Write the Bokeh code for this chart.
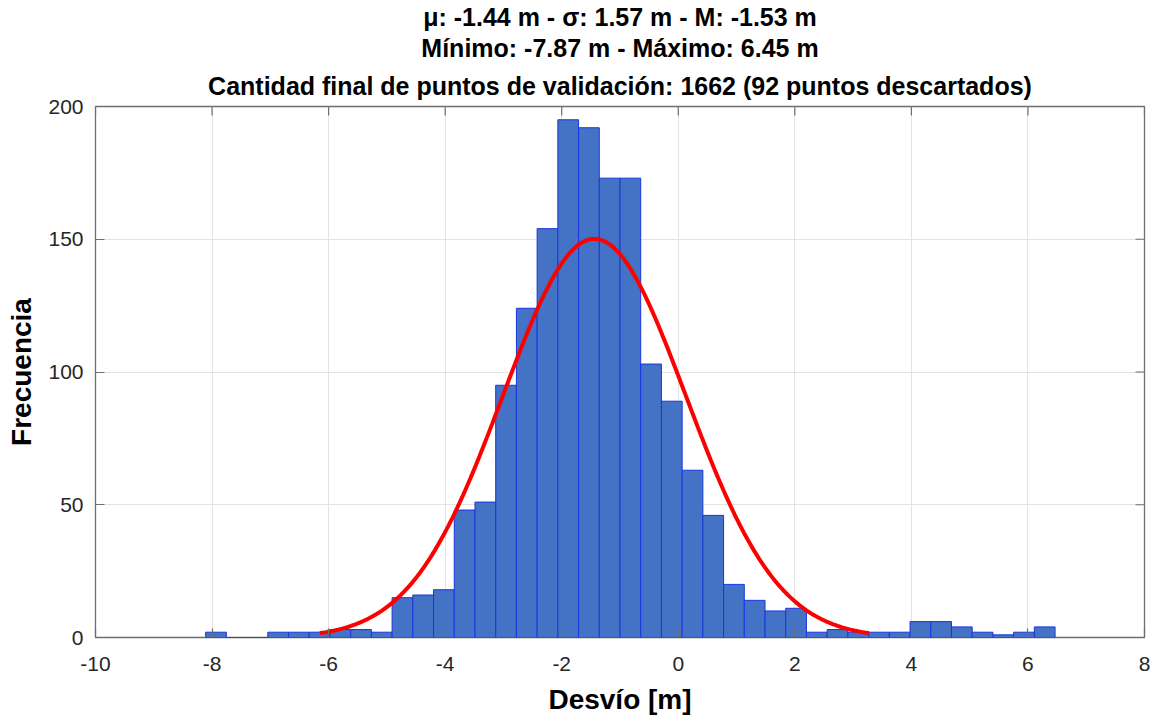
import numpy as np
from bokeh.plotting import figure
from bokeh.models import ColumnDataSource, FixedTicker, Range1d, Title
from bokeh.embed import file_html
from bokeh.resources import INLINE

# ---------------- data ----------------
counts = [2, 0, 0, 2, 2, 2, 3, 3, 2,
          15, 16, 18, 48, 51, 95, 124, 154, 195, 192, 173, 173, 103, 89, 63, 46, 20, 14, 10, 11,
          2, 3, 2, 2, 2, 6, 6, 4, 2, 1, 2, 4]
bin_start = -8.11
bin_width = 0.3555

mu = -1.44
sigma = 1.57
median = -1.53
v_min = -7.87
v_max = 6.45
n_final = 1662
n_discarded = 92

x_ticks = [-10, -8, -6, -4, -2, 0, 2, 4, 6, 8]
x_tick_labels = ["-10", "-8", "-6", "-4", "-2", "0", "2", "4", "6", "8"]
y_ticks = [0, 50, 100, 150, 200]
y_tick_labels = ["0", "50", "100", "150", "200"]

title_lines = [
    "μ: -1.44 m - σ: 1.57 m - M: -1.53 m",
    "Mínimo: -7.87 m - Máximo: 6.45 m",
    "Cantidad final de puntos de validación: 1662 (92 puntos descartados)",
]
x_label = "Desvío [m]"
y_label = "Frecuencia"

# ---------------- derived ----------------
left = [bin_start + i * bin_width for i in range(len(counts))]
right = [l + bin_width for l in left]
bars = ColumnDataSource(dict(left=left, right=right, top=counts, bottom=[0] * len(counts)))

# normal fit curve (mu +/- 3 sigma), scaled to histogram counts
xs = np.linspace(mu - 3 * sigma, mu + 3 * sigma, 300)
ys = sum(counts) * bin_width / (sigma * np.sqrt(2 * np.pi)) * np.exp(-0.5 * ((xs - mu) / sigma) ** 2)
curve = ColumnDataSource(dict(x=xs, y=ys))

FONT = "Liberation Sans"
AX_GRAY = "#6e6e6e"
TXT_GRAY = "#262626"

p = figure(width=1156, height=717, output_backend="svg", toolbar_location=None,
           x_range=Range1d(x_ticks[0], x_ticks[-1]), y_range=Range1d(y_ticks[0], y_ticks[-1]),
           min_border_left=95, min_border_right=12, min_border_top=106, min_border_bottom=79,
           background_fill_color="white", border_fill_color="white")
p.title = None
p.outline_line_color = AX_GRAY
p.outline_line_width = 1.3

p.xgrid.ticker = FixedTicker(ticks=x_ticks)
p.ygrid.ticker = FixedTicker(ticks=y_ticks)
p.xgrid.grid_line_color = "#e3e3e3"
p.ygrid.grid_line_color = "#e3e3e3"

p.quad(left="left", right="right", top="top", bottom="bottom", source=bars,
       fill_color="#4472C4", line_color="#1a35e0", line_width=1)
p.line(x="x", y="y", source=curve, line_color="#ff0000", line_width=4)

# inward tick marks on the top and right edges (half of each dash is clipped by the frame)
p.scatter(x=x_ticks, y=[y_ticks[-1]] * len(x_ticks), marker="dash", angle=np.pi / 2,
          size=18, line_color=AX_GRAY, line_width=1.2)
p.scatter(x=[x_ticks[-1]] * len(y_ticks), y=y_ticks, marker="dash",
          size=18, line_color=AX_GRAY, line_width=1.2)

# axes
def style_axis(ax):
    ax.axis_line_color = None
    ax.major_tick_in = 9
    ax.major_tick_out = 0
    ax.major_tick_line_color = AX_GRAY
    ax.major_tick_line_width = 1.2
    ax.minor_tick_line_color = None
    ax.major_label_text_font = FONT
    ax.major_label_text_font_size = "21px"
    ax.major_label_text_color = TXT_GRAY
    ax.axis_label_text_font = FONT
    ax.axis_label_text_font_size = "28px"
    ax.axis_label_text_font_style = "bold"
    ax.axis_label_text_color = "black"

xa = p.xaxis[0]
xa.ticker = FixedTicker(ticks=x_ticks)
xa.major_label_overrides = {t: s for t, s in zip(x_ticks, x_tick_labels)}
style_axis(xa)
xa.major_label_standoff = 19
xa.axis_label = x_label
xa.axis_label_standoff = 10

ya = p.yaxis[0]
ya.ticker = FixedTicker(ticks=y_ticks)
ya.major_label_overrides = {t: s for t, s in zip(y_ticks, y_tick_labels)}
style_axis(ya)
ya.major_label_standoff = 12
ya.axis_label = y_label
ya.axis_label_standoff = 8

# title lines (added bottom-up: first added sits closest to the frame)
for line, standoff in zip(reversed(title_lines), [14, 1, 1]):
    p.add_layout(Title(text=line, align="center", text_font=FONT, text_font_size="25px",
                       text_font_style="bold", text_color="black", standoff=standoff), "above")

open("out.html", "w").write(file_html(p, INLINE))
